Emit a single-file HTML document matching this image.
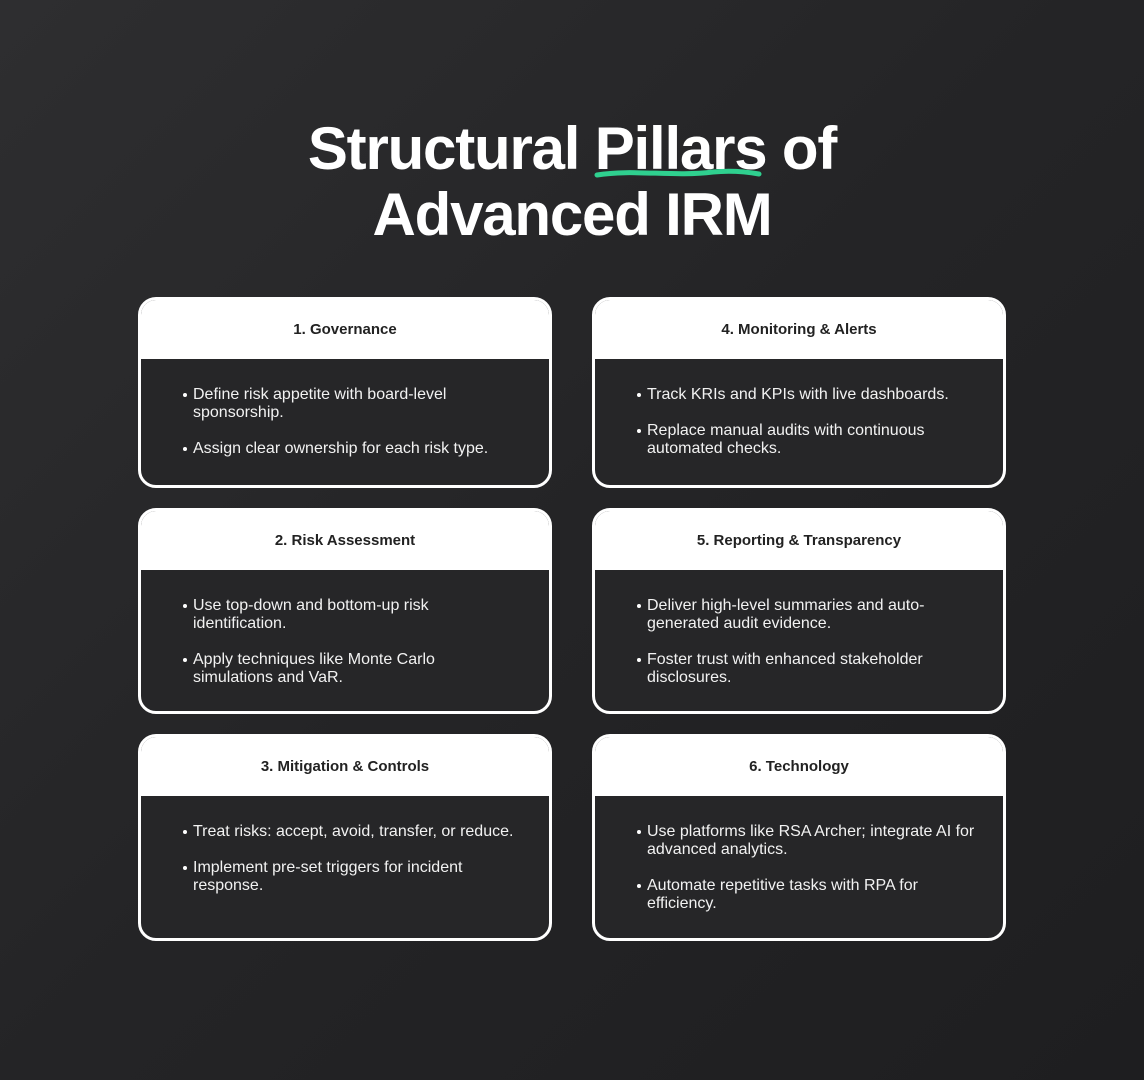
<!DOCTYPE html>
<html><head><meta charset="utf-8"><style>
*{margin:0;padding:0;box-sizing:border-box}
body{width:1144px;height:1080px;overflow:hidden;font-family:"Liberation Sans",sans-serif;background:linear-gradient(135deg,#2e2e30 0%,#242426 50%,#1e1e20 100%);color:#fff;position:relative}
h1{position:absolute;top:116px;left:0;width:1144px;text-align:center;font-size:60px;line-height:66px;font-weight:bold;letter-spacing:-1.2px}
.u{position:relative;display:inline-block}
.u svg{position:absolute;left:-2px;top:50px}
.card{position:absolute;width:414px;border:3px solid #fff;border-radius:18px;overflow:hidden;background:#262628}
.hd{background:#fff;color:#222;height:59px;text-align:center;font-size:15px;font-weight:bold;line-height:59px}
ul{list-style:none;padding:27px 30px 0 52px}
li{font-size:16px;line-height:18px;margin-bottom:18px;position:relative;color:#f2f2f2}
li:before{content:"";position:absolute;left:-10px;top:7px;width:4px;height:4px;border-radius:50%;background:#fff}
</style></head><body>
<h1>Structural <span class="u">Pillars<svg width="172" height="14" viewBox="0 0 172 14"><path d="M4 9 C40 3,80 11,120 6 C140 4,155 6,166 8" stroke="#2fd08f" stroke-width="5" fill="none" stroke-linecap="round"/></svg></span> of<br>Advanced IRM</h1>

<div class="card" style="left:138px;top:297px;height:191px"><div class="hd">1. Governance</div><ul><li>Define risk appetite with board-level sponsorship.</li><li>Assign clear ownership for each risk type.</li></ul></div>
<div class="card" style="left:592px;top:297px;height:191px"><div class="hd">4. Monitoring &amp; Alerts</div><ul><li>Track KRIs and KPIs with live dashboards.</li><li>Replace manual audits with continuous automated checks.</li></ul></div>
<div class="card" style="left:138px;top:508px;height:206px"><div class="hd">2. Risk Assessment</div><ul><li>Use top-down and bottom-up risk identification.</li><li>Apply techniques like Monte Carlo simulations and VaR.</li></ul></div>
<div class="card" style="left:592px;top:508px;height:206px"><div class="hd">5. Reporting &amp; Transparency</div><ul><li>Deliver high-level summaries and auto-generated audit evidence.</li><li>Foster trust with enhanced stakeholder disclosures.</li></ul></div>
<div class="card" style="left:138px;top:734px;height:207px"><div class="hd">3. Mitigation &amp; Controls</div><ul><li>Treat risks: accept, avoid, transfer, or reduce.</li><li>Implement pre-set triggers for incident response.</li></ul></div>
<div class="card" style="left:592px;top:734px;height:207px"><div class="hd">6. Technology</div><ul style="padding-right:18px"><li>Use platforms like RSA Archer; integrate AI for advanced analytics.</li><li>Automate repetitive tasks with RPA for<br>efficiency.</li></ul></div>
</body></html>
